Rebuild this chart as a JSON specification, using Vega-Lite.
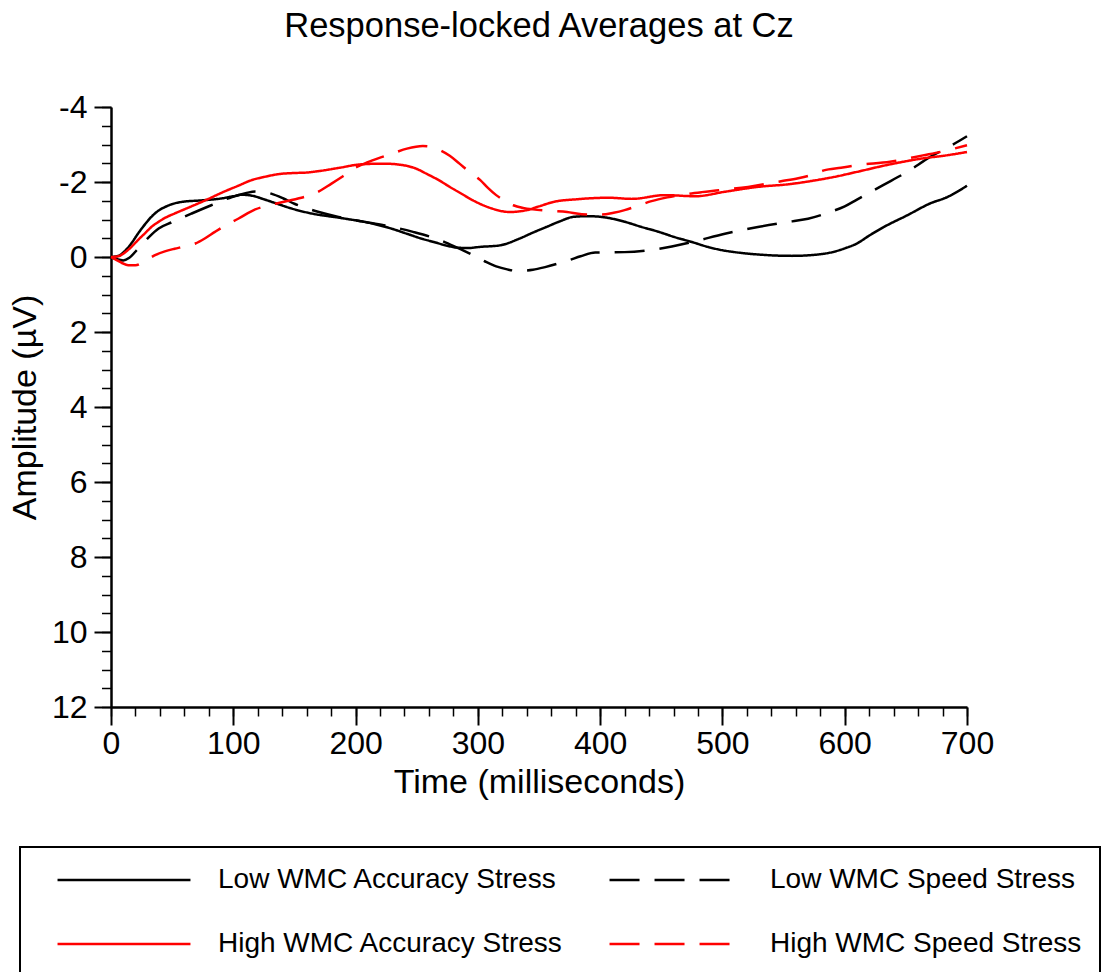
{
  "$schema": "https://vega.github.io/schema/vega-lite/v6.json",
  "width": 856,
  "height": 600,
  "autosize": "none",
  "padding": {"left": 111, "top": 107, "right": 140, "bottom": 265},
  "background": "white",
  "title": {"text": "Response-locked Averages at Cz", "font": "Liberation Sans", "fontSize": 34.5, "fontWeight": "normal", "color": "black", "anchor": "middle", "frame": "group", "offset": 47},
  "config": {
    "view": {"stroke": null},
    "axis": {"grid": false},
    "legend": {
      "orient": "none", "legendX": -91, "legendY": 740, "columns": 2, "direction": "horizontal",
      "symbolType": "M-5,0H5", "symbolSize": 707, "symbolStrokeWidth": 2.5,
      "symbolOffset": 71, "labelOffset": 79,
      "labelFont": "Liberation Sans", "labelFontSize": 28, "labelColor": "black", "labelLimit": 600,
      "padding": 18, "rowPadding": 35, "columnPadding": 26,
      "strokeColor": "black", "fillColor": "white", "strokeWidth": 2
    }
  },
  "datasets": {
    "erp": [
      {"series": "Low WMC Accuracy Stress", "t": 0, "v": 0},
      {"series": "Low WMC Accuracy Stress", "t": 6, "v": -0.03},
      {"series": "Low WMC Accuracy Stress", "t": 12, "v": -0.18},
      {"series": "Low WMC Accuracy Stress", "t": 17, "v": -0.38},
      {"series": "Low WMC Accuracy Stress", "t": 22, "v": -0.62},
      {"series": "Low WMC Accuracy Stress", "t": 28, "v": -0.88},
      {"series": "Low WMC Accuracy Stress", "t": 33, "v": -1.07},
      {"series": "Low WMC Accuracy Stress", "t": 39, "v": -1.24},
      {"series": "Low WMC Accuracy Stress", "t": 44, "v": -1.33},
      {"series": "Low WMC Accuracy Stress", "t": 50, "v": -1.41},
      {"series": "Low WMC Accuracy Stress", "t": 58, "v": -1.47},
      {"series": "Low WMC Accuracy Stress", "t": 74, "v": -1.51},
      {"series": "Low WMC Accuracy Stress", "t": 90, "v": -1.56},
      {"series": "Low WMC Accuracy Stress", "t": 100, "v": -1.62},
      {"series": "Low WMC Accuracy Stress", "t": 107, "v": -1.66},
      {"series": "Low WMC Accuracy Stress", "t": 116, "v": -1.63},
      {"series": "Low WMC Accuracy Stress", "t": 125, "v": -1.54},
      {"series": "Low WMC Accuracy Stress", "t": 135, "v": -1.43},
      {"series": "Low WMC Accuracy Stress", "t": 148, "v": -1.29},
      {"series": "Low WMC Accuracy Stress", "t": 164, "v": -1.16},
      {"series": "Low WMC Accuracy Stress", "t": 186, "v": -1.05},
      {"series": "Low WMC Accuracy Stress", "t": 214, "v": -0.89},
      {"series": "Low WMC Accuracy Stress", "t": 230, "v": -0.75},
      {"series": "Low WMC Accuracy Stress", "t": 242, "v": -0.62},
      {"series": "Low WMC Accuracy Stress", "t": 255, "v": -0.48},
      {"series": "Low WMC Accuracy Stress", "t": 264, "v": -0.40},
      {"series": "Low WMC Accuracy Stress", "t": 275, "v": -0.30},
      {"series": "Low WMC Accuracy Stress", "t": 283, "v": -0.25},
      {"series": "Low WMC Accuracy Stress", "t": 292, "v": -0.24},
      {"series": "Low WMC Accuracy Stress", "t": 302, "v": -0.27},
      {"series": "Low WMC Accuracy Stress", "t": 318, "v": -0.31},
      {"series": "Low WMC Accuracy Stress", "t": 334, "v": -0.49},
      {"series": "Low WMC Accuracy Stress", "t": 345, "v": -0.65},
      {"series": "Low WMC Accuracy Stress", "t": 356, "v": -0.80},
      {"series": "Low WMC Accuracy Stress", "t": 367, "v": -0.95},
      {"series": "Low WMC Accuracy Stress", "t": 378, "v": -1.07},
      {"series": "Low WMC Accuracy Stress", "t": 390, "v": -1.09},
      {"series": "Low WMC Accuracy Stress", "t": 407, "v": -1.04},
      {"series": "Low WMC Accuracy Stress", "t": 420, "v": -0.94},
      {"series": "Low WMC Accuracy Stress", "t": 434, "v": -0.80},
      {"series": "Low WMC Accuracy Stress", "t": 448, "v": -0.67},
      {"series": "Low WMC Accuracy Stress", "t": 461, "v": -0.53},
      {"series": "Low WMC Accuracy Stress", "t": 475, "v": -0.40},
      {"series": "Low WMC Accuracy Stress", "t": 488, "v": -0.27},
      {"series": "Low WMC Accuracy Stress", "t": 500, "v": -0.18},
      {"series": "Low WMC Accuracy Stress", "t": 510, "v": -0.13},
      {"series": "Low WMC Accuracy Stress", "t": 532, "v": -0.06},
      {"series": "Low WMC Accuracy Stress", "t": 557, "v": -0.03},
      {"series": "Low WMC Accuracy Stress", "t": 576, "v": -0.06},
      {"series": "Low WMC Accuracy Stress", "t": 590, "v": -0.13},
      {"series": "Low WMC Accuracy Stress", "t": 600, "v": -0.23},
      {"series": "Low WMC Accuracy Stress", "t": 610, "v": -0.36},
      {"series": "Low WMC Accuracy Stress", "t": 620, "v": -0.57},
      {"series": "Low WMC Accuracy Stress", "t": 632, "v": -0.80},
      {"series": "Low WMC Accuracy Stress", "t": 651, "v": -1.11},
      {"series": "Low WMC Accuracy Stress", "t": 670, "v": -1.43},
      {"series": "Low WMC Accuracy Stress", "t": 684, "v": -1.60},
      {"series": "Low WMC Accuracy Stress", "t": 700, "v": -1.90},

      {"series": "Low WMC Speed Stress", "t": 0, "v": 0},
      {"series": "Low WMC Speed Stress", "t": 5, "v": 0.06},
      {"series": "Low WMC Speed Stress", "t": 10, "v": 0.09},
      {"series": "Low WMC Speed Stress", "t": 15, "v": 0.02},
      {"series": "Low WMC Speed Stress", "t": 21, "v": -0.18},
      {"series": "Low WMC Speed Stress", "t": 26, "v": -0.36},
      {"series": "Low WMC Speed Stress", "t": 31, "v": -0.53},
      {"series": "Low WMC Speed Stress", "t": 39, "v": -0.76},
      {"series": "Low WMC Speed Stress", "t": 50, "v": -0.93},
      {"series": "Low WMC Speed Stress", "t": 66, "v": -1.16},
      {"series": "Low WMC Speed Stress", "t": 82, "v": -1.38},
      {"series": "Low WMC Speed Stress", "t": 99, "v": -1.60},
      {"series": "Low WMC Speed Stress", "t": 110, "v": -1.70},
      {"series": "Low WMC Speed Stress", "t": 118, "v": -1.75},
      {"series": "Low WMC Speed Stress", "t": 126, "v": -1.73},
      {"series": "Low WMC Speed Stress", "t": 131, "v": -1.69},
      {"series": "Low WMC Speed Stress", "t": 141, "v": -1.56},
      {"series": "Low WMC Speed Stress", "t": 150, "v": -1.42},
      {"series": "Low WMC Speed Stress", "t": 160, "v": -1.30},
      {"series": "Low WMC Speed Stress", "t": 170, "v": -1.20},
      {"series": "Low WMC Speed Stress", "t": 186, "v": -1.07},
      {"series": "Low WMC Speed Stress", "t": 205, "v": -0.95},
      {"series": "Low WMC Speed Stress", "t": 223, "v": -0.85},
      {"series": "Low WMC Speed Stress", "t": 247, "v": -0.67},
      {"series": "Low WMC Speed Stress", "t": 269, "v": -0.45},
      {"series": "Low WMC Speed Stress", "t": 283, "v": -0.25},
      {"series": "Low WMC Speed Stress", "t": 296, "v": -0.05},
      {"series": "Low WMC Speed Stress", "t": 306, "v": 0.12},
      {"series": "Low WMC Speed Stress", "t": 315, "v": 0.25},
      {"series": "Low WMC Speed Stress", "t": 324, "v": 0.33},
      {"series": "Low WMC Speed Stress", "t": 332, "v": 0.37},
      {"series": "Low WMC Speed Stress", "t": 345, "v": 0.34},
      {"series": "Low WMC Speed Stress", "t": 355, "v": 0.27},
      {"series": "Low WMC Speed Stress", "t": 365, "v": 0.18},
      {"series": "Low WMC Speed Stress", "t": 375, "v": 0.08},
      {"series": "Low WMC Speed Stress", "t": 384, "v": -0.02},
      {"series": "Low WMC Speed Stress", "t": 396, "v": -0.12},
      {"series": "Low WMC Speed Stress", "t": 420, "v": -0.13},
      {"series": "Low WMC Speed Stress", "t": 448, "v": -0.22},
      {"series": "Low WMC Speed Stress", "t": 475, "v": -0.40},
      {"series": "Low WMC Speed Stress", "t": 502, "v": -0.62},
      {"series": "Low WMC Speed Stress", "t": 529, "v": -0.80},
      {"series": "Low WMC Speed Stress", "t": 557, "v": -0.95},
      {"series": "Low WMC Speed Stress", "t": 570, "v": -1.02},
      {"series": "Low WMC Speed Stress", "t": 588, "v": -1.20},
      {"series": "Low WMC Speed Stress", "t": 600, "v": -1.35},
      {"series": "Low WMC Speed Stress", "t": 610, "v": -1.53},
      {"series": "Low WMC Speed Stress", "t": 631, "v": -1.91},
      {"series": "Low WMC Speed Stress", "t": 651, "v": -2.27},
      {"series": "Low WMC Speed Stress", "t": 670, "v": -2.67},
      {"series": "Low WMC Speed Stress", "t": 686, "v": -2.95},
      {"series": "Low WMC Speed Stress", "t": 700, "v": -3.22},

      {"series": "High WMC Accuracy Stress", "t": 0, "v": 0},
      {"series": "High WMC Accuracy Stress", "t": 6, "v": -0.02},
      {"series": "High WMC Accuracy Stress", "t": 11, "v": -0.11},
      {"series": "High WMC Accuracy Stress", "t": 17, "v": -0.28},
      {"series": "High WMC Accuracy Stress", "t": 22, "v": -0.45},
      {"series": "High WMC Accuracy Stress", "t": 28, "v": -0.64},
      {"series": "High WMC Accuracy Stress", "t": 33, "v": -0.80},
      {"series": "High WMC Accuracy Stress", "t": 39, "v": -0.94},
      {"series": "High WMC Accuracy Stress", "t": 44, "v": -1.04},
      {"series": "High WMC Accuracy Stress", "t": 52, "v": -1.16},
      {"series": "High WMC Accuracy Stress", "t": 60, "v": -1.27},
      {"series": "High WMC Accuracy Stress", "t": 77, "v": -1.51},
      {"series": "High WMC Accuracy Stress", "t": 93, "v": -1.75},
      {"series": "High WMC Accuracy Stress", "t": 104, "v": -1.90},
      {"series": "High WMC Accuracy Stress", "t": 115, "v": -2.05},
      {"series": "High WMC Accuracy Stress", "t": 126, "v": -2.14},
      {"series": "High WMC Accuracy Stress", "t": 137, "v": -2.21},
      {"series": "High WMC Accuracy Stress", "t": 150, "v": -2.24},
      {"series": "High WMC Accuracy Stress", "t": 159, "v": -2.25},
      {"series": "High WMC Accuracy Stress", "t": 172, "v": -2.30},
      {"series": "High WMC Accuracy Stress", "t": 187, "v": -2.38},
      {"series": "High WMC Accuracy Stress", "t": 204, "v": -2.47},
      {"series": "High WMC Accuracy Stress", "t": 223, "v": -2.49},
      {"series": "High WMC Accuracy Stress", "t": 242, "v": -2.43},
      {"series": "High WMC Accuracy Stress", "t": 250, "v": -2.35},
      {"series": "High WMC Accuracy Stress", "t": 258, "v": -2.22},
      {"series": "High WMC Accuracy Stress", "t": 268, "v": -2.05},
      {"series": "High WMC Accuracy Stress", "t": 277, "v": -1.87},
      {"series": "High WMC Accuracy Stress", "t": 287, "v": -1.68},
      {"series": "High WMC Accuracy Stress", "t": 296, "v": -1.51},
      {"series": "High WMC Accuracy Stress", "t": 310, "v": -1.31},
      {"series": "High WMC Accuracy Stress", "t": 326, "v": -1.20},
      {"series": "High WMC Accuracy Stress", "t": 340, "v": -1.25},
      {"series": "High WMC Accuracy Stress", "t": 350, "v": -1.35},
      {"series": "High WMC Accuracy Stress", "t": 362, "v": -1.47},
      {"series": "High WMC Accuracy Stress", "t": 381, "v": -1.54},
      {"series": "High WMC Accuracy Stress", "t": 407, "v": -1.58},
      {"series": "High WMC Accuracy Stress", "t": 426, "v": -1.55},
      {"series": "High WMC Accuracy Stress", "t": 453, "v": -1.65},
      {"series": "High WMC Accuracy Stress", "t": 478, "v": -1.62},
      {"series": "High WMC Accuracy Stress", "t": 502, "v": -1.74},
      {"series": "High WMC Accuracy Stress", "t": 529, "v": -1.87},
      {"series": "High WMC Accuracy Stress", "t": 554, "v": -1.94},
      {"series": "High WMC Accuracy Stress", "t": 577, "v": -2.05},
      {"series": "High WMC Accuracy Stress", "t": 595, "v": -2.16},
      {"series": "High WMC Accuracy Stress", "t": 610, "v": -2.27},
      {"series": "High WMC Accuracy Stress", "t": 637, "v": -2.47},
      {"series": "High WMC Accuracy Stress", "t": 664, "v": -2.63},
      {"series": "High WMC Accuracy Stress", "t": 683, "v": -2.71},
      {"series": "High WMC Accuracy Stress", "t": 700, "v": -2.80},

      {"series": "High WMC Speed Stress", "t": 0, "v": 0},
      {"series": "High WMC Speed Stress", "t": 5, "v": 0.09},
      {"series": "High WMC Speed Stress", "t": 9, "v": 0.16},
      {"series": "High WMC Speed Stress", "t": 14, "v": 0.22},
      {"series": "High WMC Speed Stress", "t": 20, "v": 0.22},
      {"series": "High WMC Speed Stress", "t": 28, "v": 0.10},
      {"series": "High WMC Speed Stress", "t": 36, "v": -0.05},
      {"series": "High WMC Speed Stress", "t": 44, "v": -0.15},
      {"series": "High WMC Speed Stress", "t": 52, "v": -0.22},
      {"series": "High WMC Speed Stress", "t": 60, "v": -0.28},
      {"series": "High WMC Speed Stress", "t": 69, "v": -0.36},
      {"series": "High WMC Speed Stress", "t": 77, "v": -0.50},
      {"series": "High WMC Speed Stress", "t": 85, "v": -0.67},
      {"series": "High WMC Speed Stress", "t": 94, "v": -0.85},
      {"series": "High WMC Speed Stress", "t": 104, "v": -1.02},
      {"series": "High WMC Speed Stress", "t": 118, "v": -1.27},
      {"series": "High WMC Speed Stress", "t": 128, "v": -1.37},
      {"series": "High WMC Speed Stress", "t": 137, "v": -1.44},
      {"series": "High WMC Speed Stress", "t": 145, "v": -1.50},
      {"series": "High WMC Speed Stress", "t": 153, "v": -1.56},
      {"series": "High WMC Speed Stress", "t": 162, "v": -1.64},
      {"series": "High WMC Speed Stress", "t": 170, "v": -1.75},
      {"series": "High WMC Speed Stress", "t": 180, "v": -1.95},
      {"series": "High WMC Speed Stress", "t": 190, "v": -2.16},
      {"series": "High WMC Speed Stress", "t": 201, "v": -2.40},
      {"series": "High WMC Speed Stress", "t": 210, "v": -2.53},
      {"series": "High WMC Speed Stress", "t": 220, "v": -2.65},
      {"series": "High WMC Speed Stress", "t": 231, "v": -2.77},
      {"series": "High WMC Speed Stress", "t": 242, "v": -2.89},
      {"series": "High WMC Speed Stress", "t": 255, "v": -2.96},
      {"series": "High WMC Speed Stress", "t": 262, "v": -2.94},
      {"series": "High WMC Speed Stress", "t": 269, "v": -2.85},
      {"series": "High WMC Speed Stress", "t": 277, "v": -2.70},
      {"series": "High WMC Speed Stress", "t": 285, "v": -2.49},
      {"series": "High WMC Speed Stress", "t": 293, "v": -2.27},
      {"series": "High WMC Speed Stress", "t": 302, "v": -2.05},
      {"series": "High WMC Speed Stress", "t": 308, "v": -1.85},
      {"series": "High WMC Speed Stress", "t": 315, "v": -1.65},
      {"series": "High WMC Speed Stress", "t": 322, "v": -1.50},
      {"series": "High WMC Speed Stress", "t": 329, "v": -1.38},
      {"series": "High WMC Speed Stress", "t": 337, "v": -1.31},
      {"series": "High WMC Speed Stress", "t": 345, "v": -1.27},
      {"series": "High WMC Speed Stress", "t": 360, "v": -1.23},
      {"series": "High WMC Speed Stress", "t": 373, "v": -1.20},
      {"series": "High WMC Speed Stress", "t": 385, "v": -1.14},
      {"series": "High WMC Speed Stress", "t": 401, "v": -1.13},
      {"series": "High WMC Speed Stress", "t": 411, "v": -1.18},
      {"series": "High WMC Speed Stress", "t": 420, "v": -1.25},
      {"series": "High WMC Speed Stress", "t": 431, "v": -1.37},
      {"series": "High WMC Speed Stress", "t": 442, "v": -1.49},
      {"series": "High WMC Speed Stress", "t": 455, "v": -1.59},
      {"series": "High WMC Speed Stress", "t": 469, "v": -1.67},
      {"series": "High WMC Speed Stress", "t": 483, "v": -1.73},
      {"series": "High WMC Speed Stress", "t": 497, "v": -1.78},
      {"series": "High WMC Speed Stress", "t": 521, "v": -1.87},
      {"series": "High WMC Speed Stress", "t": 548, "v": -2.02},
      {"series": "High WMC Speed Stress", "t": 562, "v": -2.10},
      {"series": "High WMC Speed Stress", "t": 576, "v": -2.22},
      {"series": "High WMC Speed Stress", "t": 583, "v": -2.31},
      {"series": "High WMC Speed Stress", "t": 597, "v": -2.38},
      {"series": "High WMC Speed Stress", "t": 610, "v": -2.45},
      {"series": "High WMC Speed Stress", "t": 637, "v": -2.54},
      {"series": "High WMC Speed Stress", "t": 664, "v": -2.71},
      {"series": "High WMC Speed Stress", "t": 682, "v": -2.83},
      {"series": "High WMC Speed Stress", "t": 700, "v": -2.98}
    ]
  },
  "data": {"name": "erp"},
  "layer": [
    {
      "mark": {"type": "line", "interpolate": "monotone", "strokeWidth": 2.5},
      "encoding": {
        "x": {
          "field": "t", "type": "quantitative",
          "scale": {"domain": [0, 700], "nice": false, "zero": false},
          "axis": {
            "orient": "bottom", "values": [0, 100, 200, 300, 400, 500, 600, 700],
            "title": "Time (milliseconds)", "titleFont": "Liberation Sans", "titleFontSize": 34, "titleFontWeight": "normal", "titleColor": "black", "titlePadding": 6,
            "labelFont": "Liberation Sans", "labelFontSize": 32, "labelColor": "black", "labelPadding": 3, "labelFlush": false, "labelOverlap": false,
            "labelExpr": "'' + datum.value",
            "tickSize": 18, "tickWidth": 2, "tickColor": "black",
            "domainColor": "black", "domainWidth": 2.5, "grid": false
          }
        },
        "y": {
          "field": "v", "type": "quantitative",
          "scale": {"domain": [-4, 12], "reverse": true, "nice": false, "zero": false},
          "axis": {
            "orient": "left", "values": [-4, -2, 0, 2, 4, 6, 8, 10, 12],
            "title": "Amplitude (µV)", "titleFont": "Liberation Sans", "titleFontSize": 34, "titleFontWeight": "normal", "titleColor": "black", "titlePadding": 9,
            "labelFont": "Liberation Sans", "labelFontSize": 32, "labelColor": "black", "labelPadding": 7, "labelFlush": false, "labelOverlap": false,
            "labelExpr": "'' + datum.value",
            "tickSize": 17, "tickWidth": 2, "tickColor": "black",
            "domainColor": "black", "domainWidth": 2.5, "grid": false
          }
        },
        "color": {
          "field": "series", "type": "nominal",
          "scale": {"domain": ["Low WMC Accuracy Stress", "Low WMC Speed Stress", "High WMC Accuracy Stress", "High WMC Speed Stress"], "range": ["#000000", "#000000", "#ff0000", "#ff0000"]},
          "legend": {"title": null, "symbolType": "M-5,0H5", "direction": "horizontal", "columns": 2}
        },
        "strokeDash": {
          "field": "series", "type": "nominal",
          "scale": {"domain": ["Low WMC Accuracy Stress", "Low WMC Speed Stress", "High WMC Accuracy Stress", "High WMC Speed Stress"], "range": [[1, 0], [30, 15], [1, 0], [30, 15]]},
          "legend": {"title": null, "symbolType": "M-5,0H5", "direction": "horizontal", "columns": 2}
        }
      }
    },
    {
      "mark": {"type": "point", "opacity": 0},
      "encoding": {
        "x": {
          "field": "t", "type": "quantitative",
          "scale": {"domain": [0, 700], "nice": false, "zero": false},
          "axis": {
            "orient": "bottom", "values": [0, 20, 40, 60, 80, 100, 120, 140, 160, 180, 200, 220, 240, 260, 280, 300, 320, 340, 360, 380, 400, 420, 440, 460, 480, 500, 520, 540, 560, 580, 600, 620, 640, 660, 680, 700],
            "labels": false, "title": null, "domain": false, "grid": false,
            "tickSize": 9, "tickWidth": 1.5, "tickColor": "black"
          }
        },
        "y": {
          "field": "v", "type": "quantitative",
          "scale": {"domain": [-4, 12], "reverse": true, "nice": false, "zero": false},
          "axis": {
            "orient": "left", "values": [-4, -3.5, -3, -2.5, -2, -1.5, -1, -0.5, 0, 0.5, 1, 1.5, 2, 2.5, 3, 3.5, 4, 4.5, 5, 5.5, 6, 6.5, 7, 7.5, 8, 8.5, 9, 9.5, 10, 10.5, 11, 11.5, 12],
            "labels": false, "title": null, "domain": false, "grid": false,
            "tickSize": 9.5, "tickWidth": 1.5, "tickColor": "black"
          }
        }
      }
    }
  ],
  "resolve": {"axis": {"x": "independent", "y": "independent"}}
}
